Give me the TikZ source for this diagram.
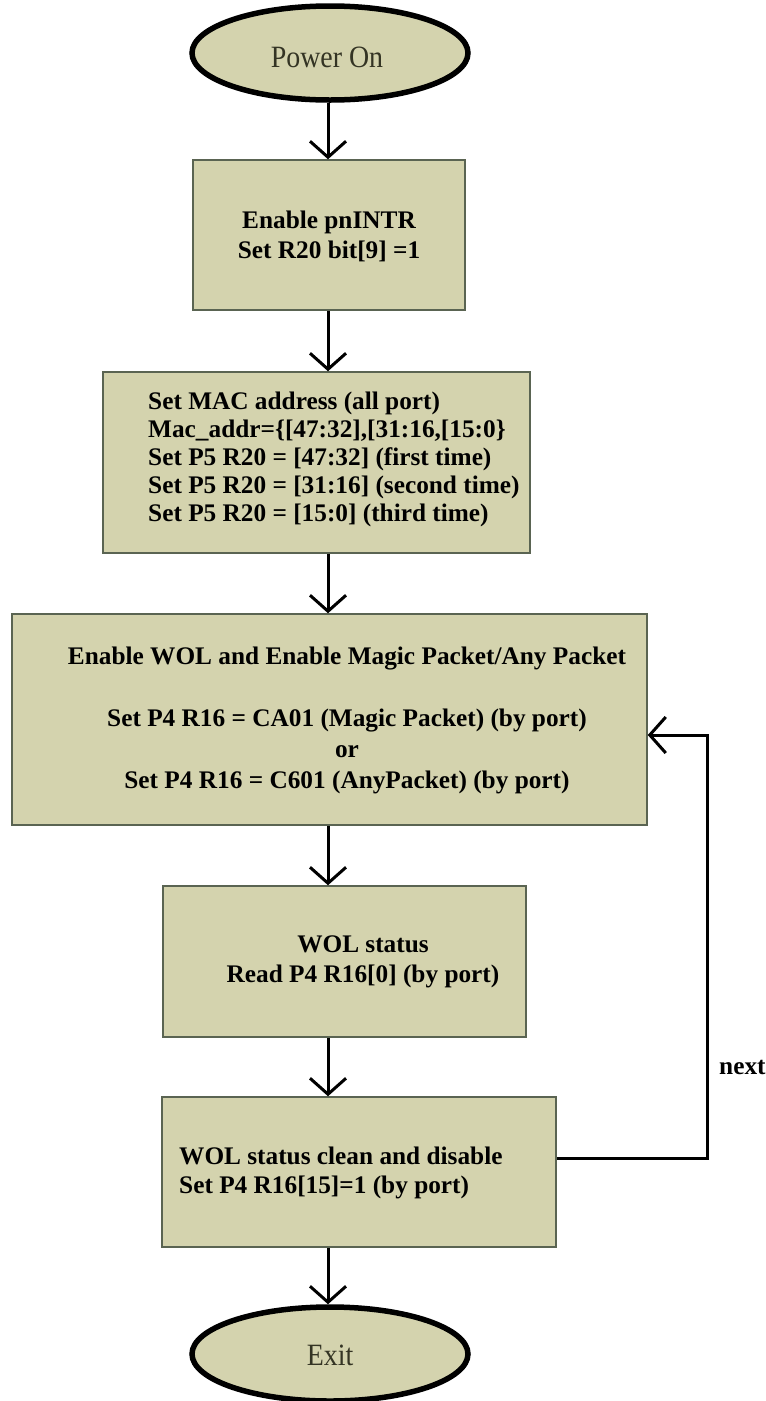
\documentclass[tikz,border=0pt]{standalone}
\usepackage{fontspec}
\setmainfont{Liberation Serif}
\usetikzlibrary{arrows.meta,shapes.geometric}
\definecolor{khaki}{RGB}{212,211,174}
\definecolor{boxline}{RGB}{90,100,82}
\definecolor{termtext}{RGB}{52,52,36}
\tikzset{
  stepbox/.style={draw=boxline,line width=1.5pt,fill=khaki,inner sep=0pt},
  term/.style={ellipse,draw=black,line width=5.5pt,fill=khaki,inner sep=0pt,
    minimum width=276pt,minimum height=94pt},
  boxtext/.style={font=\fontsize{25.3}{30}\selectfont\bfseries,inner sep=0pt,text=black},
  termlabel/.style={font=\fontsize{31}{34}\selectfont,text=termtext,inner sep=0pt},
  flow/.style={line width=3pt,-{Straight Barb[length=16pt,width=36pt,line width=3pt]}},
}
\begin{document}
\begin{tikzpicture}[x=1pt,y=-1pt]
\useasboundingbox (0,0) rectangle (766,1401);

% terminals
\node[term] (pwr) at (330,53) {};
\node[termlabel] (pwrtxt) at (327,57) {\scalebox{0.9}[1]{Power On}};
\node[term] (exit) at (330,1354) {};
\node[termlabel] (exittxt) at (330,1355) {\scalebox{0.9}[1]{Exit}};

% process boxes
\node[stepbox,minimum width=272pt,minimum height=150pt] (b1) at (329,235) {};
\node[stepbox,minimum width=427pt,minimum height=181pt] (b2) at (316.5,462.5) {};
\node[stepbox,minimum width=635pt,minimum height=211pt] (b3) at (329.5,719.5) {};
\node[stepbox,minimum width=363pt,minimum height=151pt] (b4) at (344.5,961.5) {};
\node[stepbox,minimum width=394pt,minimum height=150pt] (b5) at (359,1172) {};

% box texts
\node[boxtext,align=center] (t1) at (329,236) {Enable pnINTR\\Set R20 bit[9] =1};
\node[boxtext,align=left,anchor=west,font=\fontsize{25.3}{28}\selectfont\bfseries] (t2) at (148,459)
  {Set MAC address (all port)\\Mac\_addr=\{[47:32],[31:16,[15:0\}\\Set P5 R20 = [47:32] (first time)\\Set P5 R20 = [31:16] (second time)\\Set P5 R20 = [15:0] (third time)};
\node[boxtext,align=center,font=\fontsize{25.3}{31}\selectfont\bfseries] (t3) at (347,720.5)
  {Enable WOL and Enable Magic Packet/Any Packet\\[31pt]Set P4 R16 = CA01 (Magic Packet) (by port)\\or\\Set P4 R16 = C601 (AnyPacket) (by port)};
\node[boxtext,align=center] (t4) at (363,962) {WOL status\\Read P4 R16[0] (by port)};
\node[boxtext,align=left,anchor=west,font=\fontsize{25.3}{29}\selectfont\bfseries] (t5) at (179,1172.5)
  {WOL status clean and disable\\Set P4 R16[15]=1 (by port)};

% main flow
\coordinate (ax) at (328,0);
\draw[flow] (pwr.south -| ax) -- (b1.north -| ax);
\draw[flow] (b1.south -| ax) -- (b2.north -| ax);
\draw[flow] (b2.south -| ax) -- (b3.north -| ax);
\draw[flow] (b3.south -| ax) -- (b4.north -| ax);
\draw[flow] (b4.south -| ax) -- (b5.north -| ax);
\draw[flow] (b5.south -| ax) -- (exit.north -| ax);

% loop back to the WOL setup
\coordinate (lpA) at (707,1158);
\coordinate (lpB) at (707,735);
\draw[flow] (lpA -| b5.east) -- (lpA) -- (lpB) -- (lpB -| b3.east);
\node[boxtext,anchor=west] (nxt) at (719,1067) {next};
\end{tikzpicture}
\end{document}
